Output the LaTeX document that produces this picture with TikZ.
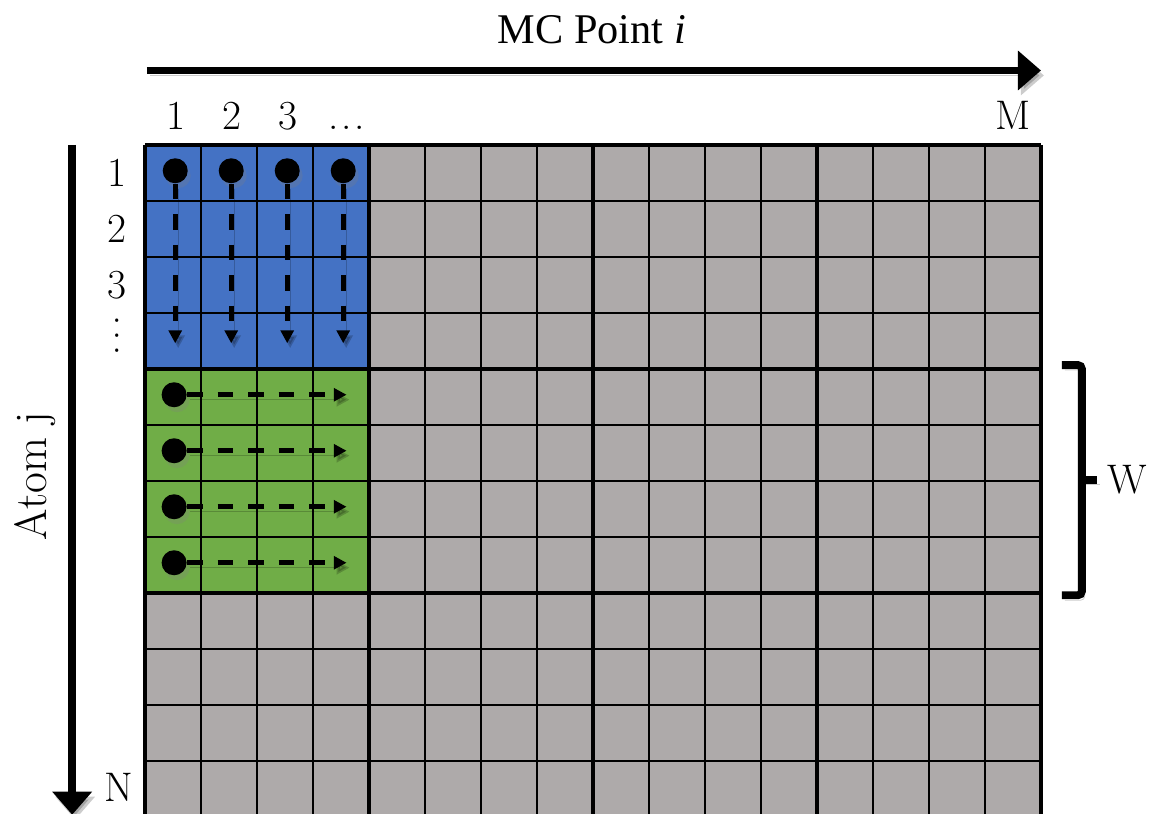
\documentclass[tikz,border=0pt]{standalone}
\usepackage{fontspec}
\newfontfamily\timesfont{Liberation Serif}
\usetikzlibrary{arrows.meta, positioning, shadows}

\definecolor{cellgray}{HTML}{AEAAAA}
\definecolor{cellblue}{HTML}{4472C4}
\definecolor{cellgreen}{HTML}{70AD47}

\begin{document}
\begin{tikzpicture}[
    >=Latex, % Set default arrow tip style
    numtext/.style={font=\fontsize{21}{24}\selectfont, inner sep=0pt}, % Style for indices and labels
    thinline/.style={line width=0.6pt}, % Cell borders
    thickline/.style={line width=2pt}, % Block borders
    dot/.style={fill=black, circle, inner sep=0pt, minimum size=12.7pt,
        drop shadow={shadow xshift=1.5pt, shadow yshift=-2.5pt, opacity=0.25}}, % Start of a sweep
    flow/.style={line width=2.5pt, dash pattern=on 8pt off 7.5pt,
        -{Triangle[length=6.5pt, width=6.5pt]}}, % Dashed sweep arrow
    axisarrow/.style={line width=3.7pt, -{Triangle[length=11.7pt, width=19.5pt]}}, % Big axis arrows
    bracket/.style={line width=4pt, rounded corners=2pt}, % Brace for W
    shadowed/.style={preaction={draw=black, opacity=0.2,
        transform canvas={shift={(1.5pt,-2.5pt)}}}} % Soft shadow under lines
]

    % Fix the page size
    \useasboundingbox (-2.589,2.589) rectangle (17.929,-11.946);

    % Cells
    \fill[cellgray] (0,0) rectangle (16,-12);
    \fill[cellblue] (0,0) rectangle (4,-4);
    \fill[cellgreen] (0,-4) rectangle (4,-8);
    \draw[thinline] (0,-12) grid (16,0);
    \draw[thickline] (0,-12) grid[step=4] (16,0);

    % MC point axis
    \coordinate (mcstart) at (0.036,1.33);
    \coordinate (mcend) at (16,1.33);
    \draw[axisarrow, shadowed] (mcstart) -- (mcend);
    \node[font=\timesfont\fontsize{21.5}{24}\selectfont, inner sep=0pt] (mctitle) at (7.98,2.05) {MC Point \textit{i}};

    % Column indices
    \foreach \t [count=\c] in {1,2,3}
        \node[numtext, anchor=base] (col\c) at (\c-0.45,0.268) {\t};
    \node[numtext, anchor=base] (col4) at (3.6,0.268) {.\hspace{1.4pt}.\hspace{1.4pt}.};
    \node[numtext, anchor=base] (colM) at (15.5,0.268) {M};

    % Atom axis
    \coordinate (atomstart) at (-1.30,0);
    \coordinate (atomend) at (-1.30,-11.96);
    \draw[axisarrow, line width=4pt, shadowed] (atomstart) -- (atomend);
    \node[numtext, font=\fontsize{23}{26}\selectfont, rotate=90] (atomtitle) at (-1.96,-5.91) {Atom j};

    % Row indices
    \foreach \t [count=\r] in {1,2,3}
        \node[numtext] (row\r) at (-0.5,-\r+0.5) {\t};
    \node[numtext, rotate=-90] (row4) at (-0.5,-3.4) {.\hspace{2.4pt}.\hspace{2.4pt}.};
    \node[numtext, anchor=base] (rowN) at (-0.46,-11.73) {N};

    % Sweeps down the atoms (blue block)
    \foreach \c in {1,...,4} {
        \node[dot] (vdot\c) at (\c-0.46,-0.46) {};
        \coordinate (vtip\c) at (\c-0.46,-3.54);
        \draw[flow, shadowed] (vdot\c) -- (vtip\c);
    }

    % Sweeps along the MC points (green block)
    \foreach \r in {5,...,8} {
        \node[dot] (hdot\r) at (0.52,-\r+0.54) {};
        \coordinate (htip\r) at (3.60,-\r+0.54);
        \draw[flow, shadowed] (hdot\r) -- (htip\r);
    }

    % Window bracket
    \coordinate (wtop) at (16.375,-3.93);
    \coordinate (wbot) at (16.375,-8.04);
    \coordinate (wmid) at (16.73,-5.98);
    \coordinate (wtick) at (17.0,-5.98);
    \draw[bracket, shadowed] (wtop) -| (wmid) |- (wbot);
    \draw[bracket, rounded corners=0pt, shadowed] (wmid) -- (wtick);
    \node[numtext] (wlabel) at (17.54,-5.98) {W};

\end{tikzpicture}
\end{document}
